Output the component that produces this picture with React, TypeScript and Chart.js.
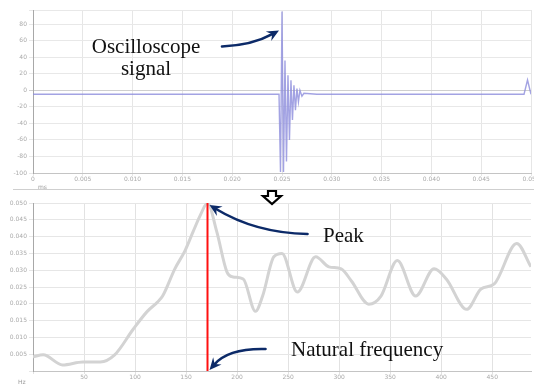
import React, { useEffect, useRef } from "react";
import { Chart, registerables } from "chart.js";

Chart.register(...registerables);

// ---------- Top panel: oscilloscope signal ----------
const sigTime = [0, 4.94, 4.97, 5.0, 5.03, 5.06, 5.09, 5.12, 5.15, 5.18, 5.21, 5.24, 5.27, 5.3, 5.33, 5.36, 5.4, 5.44, 5.7, 9.86, 9.93, 10];
const sigValue = [-0.24, -0.24, -4.94, 4.76, -4.94, 1.8, -4.3, 0.9, -3.0, 0.6, -1.8, 0.3, -1.2, 0.1, -0.7, 0.0, -0.36, -0.18, -0.24, -0.24, 0.62, -0.24];
const timeTicks = [0, 1, 2, 3, 4, 5, 6, 7, 8, 9, 10];
const timeTickLabels = ["0", "0.005", "0.010", "0.015", "0.020", "0.025", "0.030", "0.035", "0.040", "0.045", "0.050"];
const voltTicks = [-5, -4, -3, -2, -1, 0, 1, 2, 3, 4, 4.85];
const voltTickLabels = ["-100", "-80", "-60", "-40", "-20", "0", "20", "40", "60", "80", ""];

// ---------- Bottom panel: spectrum ----------
const freq = [0, 10, 29, 49, 66, 80, 98, 112, 122, 127, 139, 149, 157, 164, 171, 180, 190, 196, 206, 218, 225, 236, 244, 259, 277, 290, 302, 312, 329, 341, 357, 375, 393, 405, 425, 439, 452, 474, 488];
const amp = [0.084, 0.096, 0.036, 0.054, 0.054, 0.096, 0.247, 0.355, 0.41, 0.446, 0.608, 0.717, 0.831, 0.928, 1.0, 0.831, 0.59, 0.56, 0.548, 0.355, 0.446, 0.68, 0.7, 0.47, 0.68, 0.62, 0.608, 0.536, 0.398, 0.446, 0.657, 0.446, 0.608, 0.548, 0.367, 0.488, 0.518, 0.759, 0.62];
const freqTicks = [0, 50, 100, 150, 200, 250, 300, 350, 400, 450];
const freqTickLabels = ["", "50", "100", "150", "200", "250", "300", "350", "400", "450"];
const ampTicks = [0, 0.1, 0.2, 0.3, 0.4, 0.5, 0.6, 0.7, 0.8, 0.9, 1.0];
const ampTickLabels = ["", "0.005", "0.010", "0.015", "0.020", "0.025", "0.030", "0.035", "0.040", "0.045", "0.050"];

const NAVY = "#0c2a68";

function curvedArrow(ctx: CanvasRenderingContext2D, x0: number, y0: number, cx: number, cy: number, x1: number, y1: number) {
  ctx.save();
  ctx.strokeStyle = NAVY;
  ctx.fillStyle = NAVY;
  ctx.lineWidth = 2.6;
  ctx.lineCap = "round";
  const ang = Math.atan2(y1 - cy, x1 - cx);
  const hl = 12, hw = 5.5;
  const c = Math.cos(ang), s = Math.sin(ang);
  const ex = x1 - c * hl * 0.6, ey = y1 - s * hl * 0.6;
  ctx.beginPath();
  ctx.moveTo(x0, y0);
  ctx.quadraticCurveTo(cx, cy, ex, ey);
  ctx.stroke();
  ctx.beginPath();
  ctx.moveTo(x1, y1);
  ctx.lineTo(x1 - c * hl + s * hw, y1 - s * hl - c * hw);
  ctx.lineTo(x1 - c * hl * 0.65, y1 - s * hl * 0.65);
  ctx.lineTo(x1 - c * hl - s * hw, y1 - s * hl + c * hw);
  ctx.closePath();
  ctx.fill();
  ctx.restore();
}

const tickFont = { size: 6, family: "DejaVu Sans" };

export default function App() {
  const topRef = useRef<HTMLCanvasElement>(null);
  const botRef = useRef<HTMLCanvasElement>(null);

  useEffect(() => {
    document.body.style.margin = "0";
    const spikeIdx = sigValue.indexOf(Math.max(...sigValue));
    const peakIdx = amp.indexOf(Math.max(...amp));

    const topArrow = {
      id: "topArrow",
      afterDraw(chart: any) {
        const xs = chart.scales.x, ys = chart.scales.y;
        const tx = xs.getPixelForValue(sigTime[spikeIdx]) - 3;
        const ty = ys.getPixelForValue(sigValue[spikeIdx]) + 19;
        curvedArrow(chart.ctx, tx - 57, ty + 16, tx - 27, ty + 15, tx, ty);
      },
    };

    const botArrows = {
      id: "botArrows",
      afterDraw(chart: any) {
        const xs = chart.scales.x, ys = chart.scales.y;
        const px = xs.getPixelForValue(freq[peakIdx]) + 2;
        const py = ys.getPixelForValue(amp[peakIdx]) + 2;
        curvedArrow(chart.ctx, px + 98, py + 29, px + 46, py + 28, px, py);
        const bx = xs.getPixelForValue(freq[peakIdx]) + 2;
        const by = ys.getPixelForValue(0) - 1;
        curvedArrow(chart.ctx, bx + 56, by - 21, bx + 19, by - 22, bx, by);
      },
    };

    const c1 = new Chart(topRef.current!, {
      type: "line",
      data: {
        datasets: [
          {
            data: sigTime.map((t, i) => ({ x: t, y: sigValue[i] })),
            borderColor: "rgba(140,140,220,0.8)",
            borderWidth: 1.4,
            pointRadius: 0,
            tension: 0,
          },
        ],
      },
      options: {
        animation: false,
        responsive: false,
        maintainAspectRatio: false,
        layout: { padding: { left: 0, right: 3, top: 10, bottom: 0 } },
        plugins: { legend: { display: false }, tooltip: { enabled: false } },
        scales: {
          x: {
            type: "linear",
            min: 0,
            max: 10,
            afterBuildTicks: (s: any) => { s.ticks = timeTicks.map((v) => ({ value: v })); },
            afterFit: (s: any) => { s.height = 19; s.paddingLeft = 0; s.paddingRight = 0; },
            ticks: { callback: (_v: any, i: number) => timeTickLabels[i], font: tickFont, color: "#aaa", maxRotation: 0, autoSkip: false, padding: 0 },
            grid: { color: "#e6e6e6", tickLength: 3 },
            border: { color: "#c4c4c4" },
          },
          y: {
            type: "linear",
            min: -5,
            max: 4.85,
            afterBuildTicks: (s: any) => { s.ticks = voltTicks.map((v) => ({ value: v })); },
            afterFit: (s: any) => { s.width = 33; s.paddingTop = 0; s.paddingBottom = 0; },
            ticks: { callback: (_v: any, i: number) => voltTickLabels[i], font: tickFont, color: "#aaa", autoSkip: false, padding: 2 },
            grid: { color: (c: any) => (c.tick && c.tick.value === 0 ? "#cfcfcf" : "#e8e8e8"), tickLength: 4 },
            border: { color: "#a8a8a8" },
          },
        },
      },
      plugins: [topArrow],
    } as any);

    const c2 = new Chart(botRef.current!, {
      type: "line",
      data: {
        datasets: [
          {
            data: [
              { x: freq[peakIdx], y: 0 },
              { x: freq[peakIdx], y: amp[peakIdx] },
            ],
            borderColor: "#ff1010",
            borderWidth: 2,
            pointRadius: 0,
          },
          {
            data: freq.map((f, i) => ({ x: f, y: amp[i] })),
            borderColor: "#d3d3d3",
            borderWidth: 3,
            pointRadius: 0,
            cubicInterpolationMode: "monotone",
          },
        ],
      },
      options: {
        animation: false,
        responsive: false,
        maintainAspectRatio: false,
        layout: { padding: { left: 0, right: 3, top: 11, bottom: 0 } },
        plugins: { legend: { display: false }, tooltip: { enabled: false } },
        scales: {
          x: {
            type: "linear",
            min: 0,
            max: 488,
            afterBuildTicks: (s: any) => { s.ticks = freqTicks.map((v) => ({ value: v })); },
            afterFit: (s: any) => { s.height = 14; s.paddingLeft = 0; s.paddingRight = 0; },
            ticks: { callback: (_v: any, i: number) => freqTickLabels[i], font: tickFont, color: "#aaa", maxRotation: 0, autoSkip: false, padding: 0 },
            grid: { color: "#e2e2e2", tickLength: 3 },
            border: { color: "#c4c4c4" },
          },
          y: {
            type: "linear",
            min: 0,
            max: 1.0,
            afterBuildTicks: (s: any) => { s.ticks = ampTicks.map((v) => ({ value: v })); },
            afterFit: (s: any) => { s.width = 33; s.paddingTop = 0; s.paddingBottom = 0; },
            ticks: { callback: (_v: any, i: number) => ampTickLabels[i], font: tickFont, color: "#aaa", autoSkip: false, padding: 2 },
            grid: { color: "#e6e6e6", tickLength: 4 },
            border: { color: "#a8a8a8" },
          },
        },
      },
      plugins: [botArrows],
    } as any);

    return () => {
      c1.destroy();
      c2.destroy();
    };
  }, []);

  const serif = "'Liberation Serif', 'Times New Roman', serif";

  return (
    <div style={{ position: "absolute", left: 0, top: 0, width: 534, height: 385, background: "#fff", overflow: "hidden" }}>
      <canvas ref={topRef} width={534} height={192} style={{ position: "absolute", left: 0, top: 0, width: 534, height: 192 }} />
      <canvas ref={botRef} width={534} height={193} style={{ position: "absolute", left: 0, top: 192, width: 534, height: 193 }} />
      <div style={{ position: "absolute", left: 13, top: 189, width: 521, height: 1, background: "#cfcfcf" }} />
      <div style={{ position: "absolute", left: 38, top: 183, font: "6px 'DejaVu Sans'", color: "#999" }}>ms</div>
      <div style={{ position: "absolute", left: 18, top: 378, font: "6px 'DejaVu Sans'", color: "#999" }}>Hz</div>
      <div style={{ position: "absolute", left: 84, top: 35, width: 124, textAlign: "center", fontFamily: serif, fontSize: 21, lineHeight: "22px", color: "#111" }}>
        Oscilloscope
        <br />
        signal
      </div>
      <div style={{ position: "absolute", left: 323, top: 225, fontFamily: serif, fontSize: 21, lineHeight: "21px", color: "#111" }}>Peak</div>
      <div style={{ position: "absolute", left: 291, top: 339, fontFamily: serif, fontSize: 21, lineHeight: "21px", color: "#111", whiteSpace: "nowrap" }}>Natural frequency</div>
      <svg width={534} height={385} style={{ position: "absolute", left: 0, top: 0, pointerEvents: "none" }}>
        <polygon points="268,191 276,191 276,196 281,196 272,204 263,196 268,196" fill="#fff" stroke="#000" strokeWidth={2.2} strokeLinejoin="miter" />
      </svg>
    </div>
  );
}
